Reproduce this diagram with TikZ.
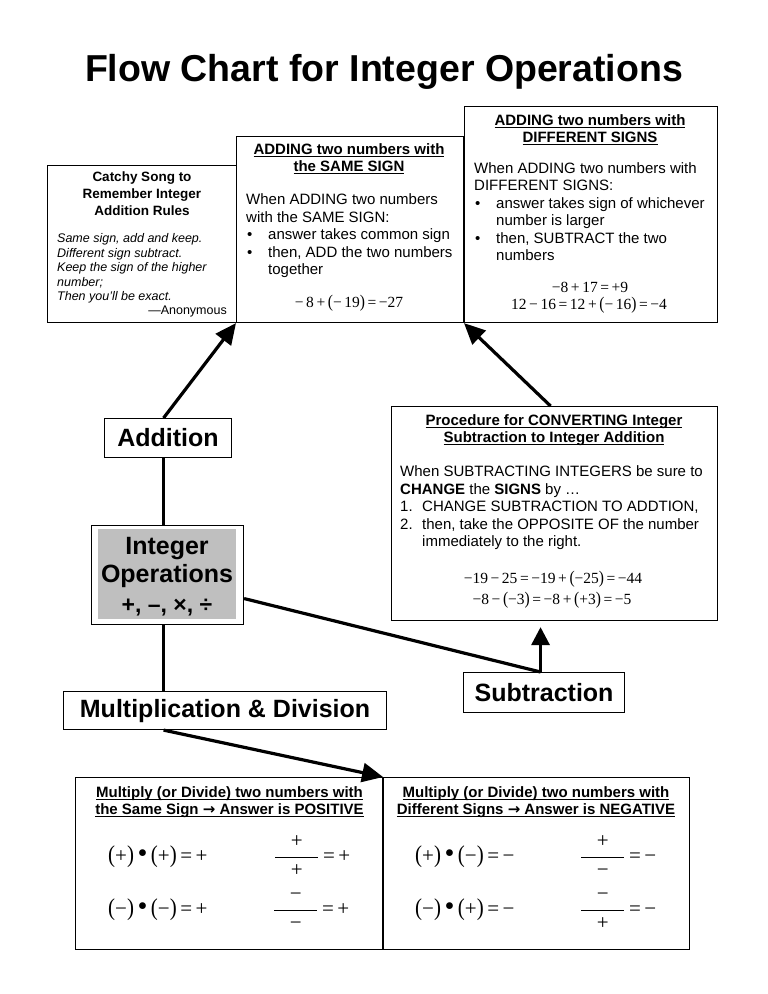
\documentclass[tikz,border=0pt]{standalone}
\usepackage{fontspec}
\setmainfont{Liberation Sans}
\newfontfamily\tms{Liberation Serif}
\newfontfamily\dej{DejaVu Sans}
\usepackage{graphicx}
\usetikzlibrary{arrows.meta}
\newcommand\fs[2]{\fontsize{#1}{#2}\selectfont}
\newcommand\ulx[1]{\setbox0\hbox{#1}\rlap{\rule[-2.6pt]{\wd0}{1.1pt}}\box0}
\newcommand\bul{\makebox[22pt][l]{\hspace{1pt}•}}
\newcommand\ind{\hspace*{22pt}}
\newcommand\mn{−}
\newcommand\rar{{\dej\bfseries →}}
\newcommand\bdot{\raisebox{-0.6pt}{\scalebox{1.35}{•}}}
\newcommand\lp{\scalebox{1}[1.15]{(}}
\newcommand\rp{\scalebox{1}[1.15]{)}}
\newcommand\frc[2]{$\displaystyle\frac{\hbox to 43pt{\hss\tms #1\hss}}{\hbox{\tms #2}}$}
\begin{document}
\begin{tikzpicture}[x=1pt,y=-1pt,
  box/.style={draw, line width=1.1pt, inner sep=0pt, anchor=north west},
  hdr/.style={font=\fs{15}{17}\bfseries, align=center, inner sep=0pt, anchor=north},
  txt/.style={font=\fs{15}{17.6}, align=left, inner sep=0pt, anchor=north west},
  eq/.style={font=\fs{15.5}{17}\tms, inner sep=0pt, anchor=base},
  beq/.style={font=\fs{21}{24}\tms, inner sep=0pt, anchor=base west},
  big/.style={font=\fs{25}{29}\bfseries},
  conn/.style={line width=3.2pt},
  arr/.style={conn, -{Triangle[length=21pt,width=19pt]}}]

\fill[white] (0,0) rectangle (768,994);
\useasboundingbox (0,0) rectangle (768,994);

\node[font=\fs{37.5}{40}\bfseries, anchor=base, inner sep=0pt] (title) at (384,81) {Flow Chart for Integer Operations};

% ---- top boxes
\node[box, minimum width=189pt, minimum height=157pt] (song) at (47,165) {};
\node[box, minimum width=227pt, minimum height=186pt] (same) at (236,136) {};
\node[box, minimum width=253pt, minimum height=216pt] (diff) at (464,106) {};

% song box
\node[font=\fs{13.5}{17}\bfseries, align=center, inner sep=0pt, anchor=north] (songH) at (142,172)
  {Catchy Song to\\Remember Integer\\Addition Rules};
\node[font=\fs{12.5}{14.5}\itshape, align=left, inner sep=0pt, anchor=north west] (songB) at (57,233.5)
  {Same sign, add and keep.\\Different sign subtract.\\Keep the sign of the higher\\number;\\Then you'll be exact.};
\node[font=\fs{12.5}{14.5}, inner sep=0pt, anchor=base east] (anon) at (227,314.5) {—Anonymous};

% same sign box
\node[hdr] (sameH) at (349,143.5) {\ulx{ADDING two numbers with}\\\ulx{the SAME SIGN}};
\node[txt] (sameB) at (246,193.5)
  {When ADDING two numbers\\with the SAME SIGN:\\\bul answer takes common sign\\\bul then, ADD the two numbers\\\ind together};
\node[eq] (sameM) at (349,307) {\mn\,8\,+\,\lp\mn\,19\rp\,=\,\mn27};

% different signs box
\node[hdr] (diffH) at (590,114.5) {\ulx{ADDING two numbers with}\\\ulx{DIFFERENT SIGNS}};
\node[txt, font=\fs{15}{17.4}] (diffB) at (474,162.5)
  {When ADDING two numbers with\\DIFFERENT SIGNS:\\\bul answer takes sign of whichever\\\ind number is larger\\\bul then, SUBTRACT the two\\\ind numbers};
\node[eq] (diffM1) at (590,292) {\mn8\,+\,17\,=\,+9};
\node[eq] (diffM2) at (589,309) {12\,\mn\,16\,=\,12\,+\,\lp\mn\,16\rp\,=\,\mn4};

% ---- converting box
\node[box, minimum width=326pt, minimum height=214pt] (conv) at (391,406) {};
\node[hdr] (convH) at (554,414.5) {\ulx{Procedure for CONVERTING Integer}\\\ulx{Subtraction to Integer Addition}};
\node[txt, font=\fs{15}{17.5}] (convB) at (400,465.5)
  {When SUBTRACTING INTEGERS be sure to\\\textbf{CHANGE} the \textbf{SIGNS} by …\\\makebox[22pt][l]{1.}CHANGE SUBTRACTION TO ADDTION,\\\makebox[22pt][l]{2.}then, take the OPPOSITE OF the number\\\ind immediately to the right.};
\node[eq] (convM1) at (553,583) {\mn19\,\mn\,25\,=\,\mn19\,+\,\lp\mn25\rp\,=\,\mn44};
\node[eq] (convM2) at (552,604) {\mn8\,\mn\,\lp\mn3\rp\,=\,\mn8\,+\,\lp+3\rp\,=\,\mn5};

% ---- labels
\node[box, big, minimum width=127pt, minimum height=39pt] (add) at (104,418) {Addition};
\node[box, minimum width=152pt, minimum height=99pt] (ops) at (91,525) {};
\fill[gray!50] (98,529) rectangle (236,619);
\node[big, anchor=base, inner sep=0pt] (opsA) at (167,554) {Integer};
\node[big, anchor=base, inner sep=0pt] (opsB) at (167,582) {Operations};
\node[font=\fs{23}{26}\bfseries, anchor=base, inner sep=0pt] (opsC) at (167,612) {+, –, ×, ÷};
\node[box, big, minimum width=323pt, minimum height=38pt] (md) at (63,691) {Multiplication \& Division};
\node[box, big, minimum width=161pt, minimum height=40pt] (sub) at (463,672) {Subtraction};

% ---- bottom boxes
\node[box, minimum width=307pt, minimum height=172pt] (bl) at (75,777) {};
\node[box, minimum width=306pt, minimum height=172pt] (br) at (383,777) {};
\node[hdr, font=\fs{15}{16.5}\bfseries] (blH) at (229.5,786.5)
  {\ulx{Multiply (or Divide) two numbers with}\\\ulx{the Same Sign \rar{} Answer is POSITIVE}};
\node[hdr, font=\fs{15}{16.5}\bfseries] (brH) at (536,786.5)
  {\ulx{Multiply (or Divide) two numbers with}\\\ulx{Different Signs \rar{} Answer is NEGATIVE}};

\node[beq] (bl1) at (108,862) {\lp+\rp\,\bdot\,\lp+\rp\,=\,+};
\node[beq] (bl2) at (108,915) {\lp\mn\rp\,\bdot\,\lp\mn\rp\,=\,+};
\node[beq] (bl3) at (274,862) {\frc{+}{+}\,=\,+};
\node[beq] (bl4) at (273,915) {\frc{\mn}{\mn}\,=\,+};

\node[beq] (br1) at (415,862) {\lp+\rp\,\bdot\,\lp\mn\rp\,=\,\mn};
\node[beq] (br2) at (415,915) {\lp\mn\rp\,\bdot\,\lp+\rp\,=\,\mn};
\node[beq] (br3) at (580,862) {\frc{+}{\mn}\,=\,\mn};
\node[beq] (br4) at (580,915) {\frc{\mn}{+}\,=\,\mn};

% ---- connectors
\draw[arr] ([xshift=-4.5pt]add.north) -- (same.south west);
\draw[conn] ([xshift=-4.5pt]add.south) -- ([xshift=-4pt]ops.north);
\draw[conn] ([xshift=-4pt]ops.south) -- ([xshift=-61.5pt]md.north);
\draw[arr] ([xshift=-61.5pt]md.south) -- (bl.north east);
\draw[conn] ([yshift=-23.5pt]ops.east) -- ([xshift=-3.5pt]sub.north);
\draw[conn, -{Triangle[length=18pt,width=18pt]}] ([xshift=-3.5pt]sub.north) -- ([xshift=-14pt,yshift=-6pt]conv.south);
\draw[arr] ([xshift=-4pt]conv.north) -- (diff.south west);
\end{tikzpicture}
\end{document}
